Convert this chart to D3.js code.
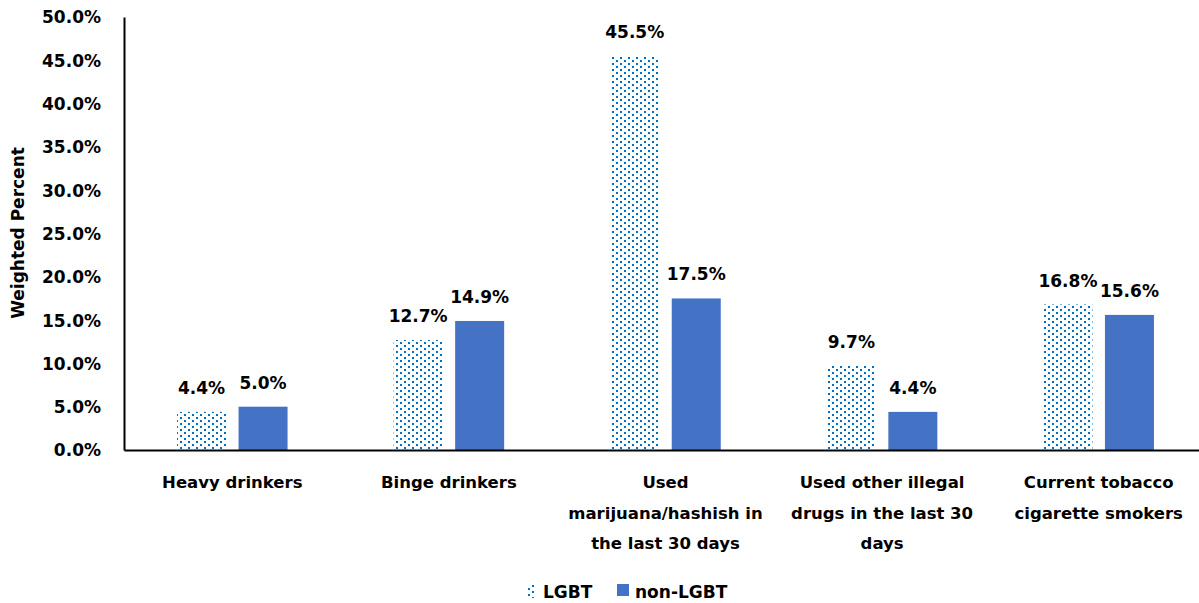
<!DOCTYPE html>
<html><head><meta charset="utf-8">
<script src="https://cdn.jsdelivr.net/npm/d3@7"></script>
<style>body{margin:0;background:#fff}text{font-family:"DejaVu Sans",sans-serif;font-weight:bold;fill:#000}</style>
</head><body><svg id="c" width="1199" height="603"></svg>
<script>
const categories = [["Heavy drinkers"],["Binge drinkers"],["Used","marijuana/hashish in","the last 30 days"],["Used other illegal","drugs in the last 30","days"],["Current tobacco","cigarette smokers"]];
const seriesNames = ["LGBT","non-LGBT"];
const lgbt = [4.4,12.7,45.5,9.7,16.8];
const nonLgbt = [5.0,14.9,17.5,4.4,15.6];
const yTicks = [0,5,10,15,20,25,30,35,40,45,50];

const svg = d3.select("#c");
const defs = svg.append("defs");
const pat = defs.append("pattern").attr("id","dots").attr("patternUnits","userSpaceOnUse").attr("width",8).attr("height",6);
pat.append("rect").attr("x",0).attr("y",0).attr("width",2).attr("height",2).attr("fill","#0070C0");
pat.append("rect").attr("x",4).attr("y",3).attr("width",2).attr("height",2).attr("fill","#0070C0");

const L=124,R=1207,T=17,B=450;
const x = d3.scaleBand().domain(d3.range(categories.length)).range([L,R]);
const y = d3.scaleLinear().domain([0,50]).range([B,T]);
const barW=49, gap=12.5;

// axes
const ya = svg.append("g").attr("transform",`translate(${L},0)`).call(d3.axisLeft(y).tickValues(yTicks).tickSize(0).tickPadding(23).tickFormat(d=>d.toFixed(1)+"%"));
ya.select(".domain").attr("stroke","#000").attr("stroke-width",2);
ya.selectAll("text").style("font-size","17px").attr("dy","0.35em");

const data = categories.map((c,i)=>({i,v:[lgbt[i],nonLgbt[i]]}));
const g = svg.append("g");
data.forEach(d=>{
  const cx = x(d.i)+x.bandwidth()/2;
  d.v.forEach((v,j)=>{
    const x0 = j===0 ? cx-gap/2-barW : cx+gap/2;
    g.append("rect").attr("x",x0).attr("y",y(v)).attr("width",barW).attr("height",B-y(v))
      .attr("fill", j===0 ? "url(#dots)" : "#4472C4");
    g.append("text").attr("x",x0+barW/2).attr("y",y(v)-18).attr("text-anchor","middle").style("font-size","17px").text(v.toFixed(1)+"%");
  });
});

const xa = svg.append("g").attr("transform",`translate(0,${B})`).call(d3.axisBottom(x).tickSize(0).tickFormat(""));
xa.select(".domain").attr("stroke","#000").attr("stroke-width",2);
categories.forEach((lines,i)=>{
  const t = svg.append("text").attr("x",x(i)+x.bandwidth()/2).attr("y",488).attr("text-anchor","middle").style("font-size","16.5px");
  lines.forEach((ln,k)=>t.append("tspan").attr("x",x(i)+x.bandwidth()/2).attr("dy",k===0?0:30.5).text(ln));
});

svg.append("text").attr("transform","translate(24,233) rotate(-90)").attr("text-anchor","middle").style("font-size","17px").text("Weighted Percent");

// legend
const lg = svg.append("g");
lg.append("rect").attr("x",527).attr("y",584).attr("width",9).attr("height",14).attr("fill","url(#dots)");
lg.append("text").attr("x",543).attr("y",598).style("font-size","17px").text(seriesNames[0]);
lg.append("rect").attr("x",617).attr("y",584).attr("width",12).attr("height",12).attr("fill","#4472C4");
lg.append("text").attr("x",635).attr("y",598).style("font-size","17px").text(seriesNames[1]);
</script></body></html>
